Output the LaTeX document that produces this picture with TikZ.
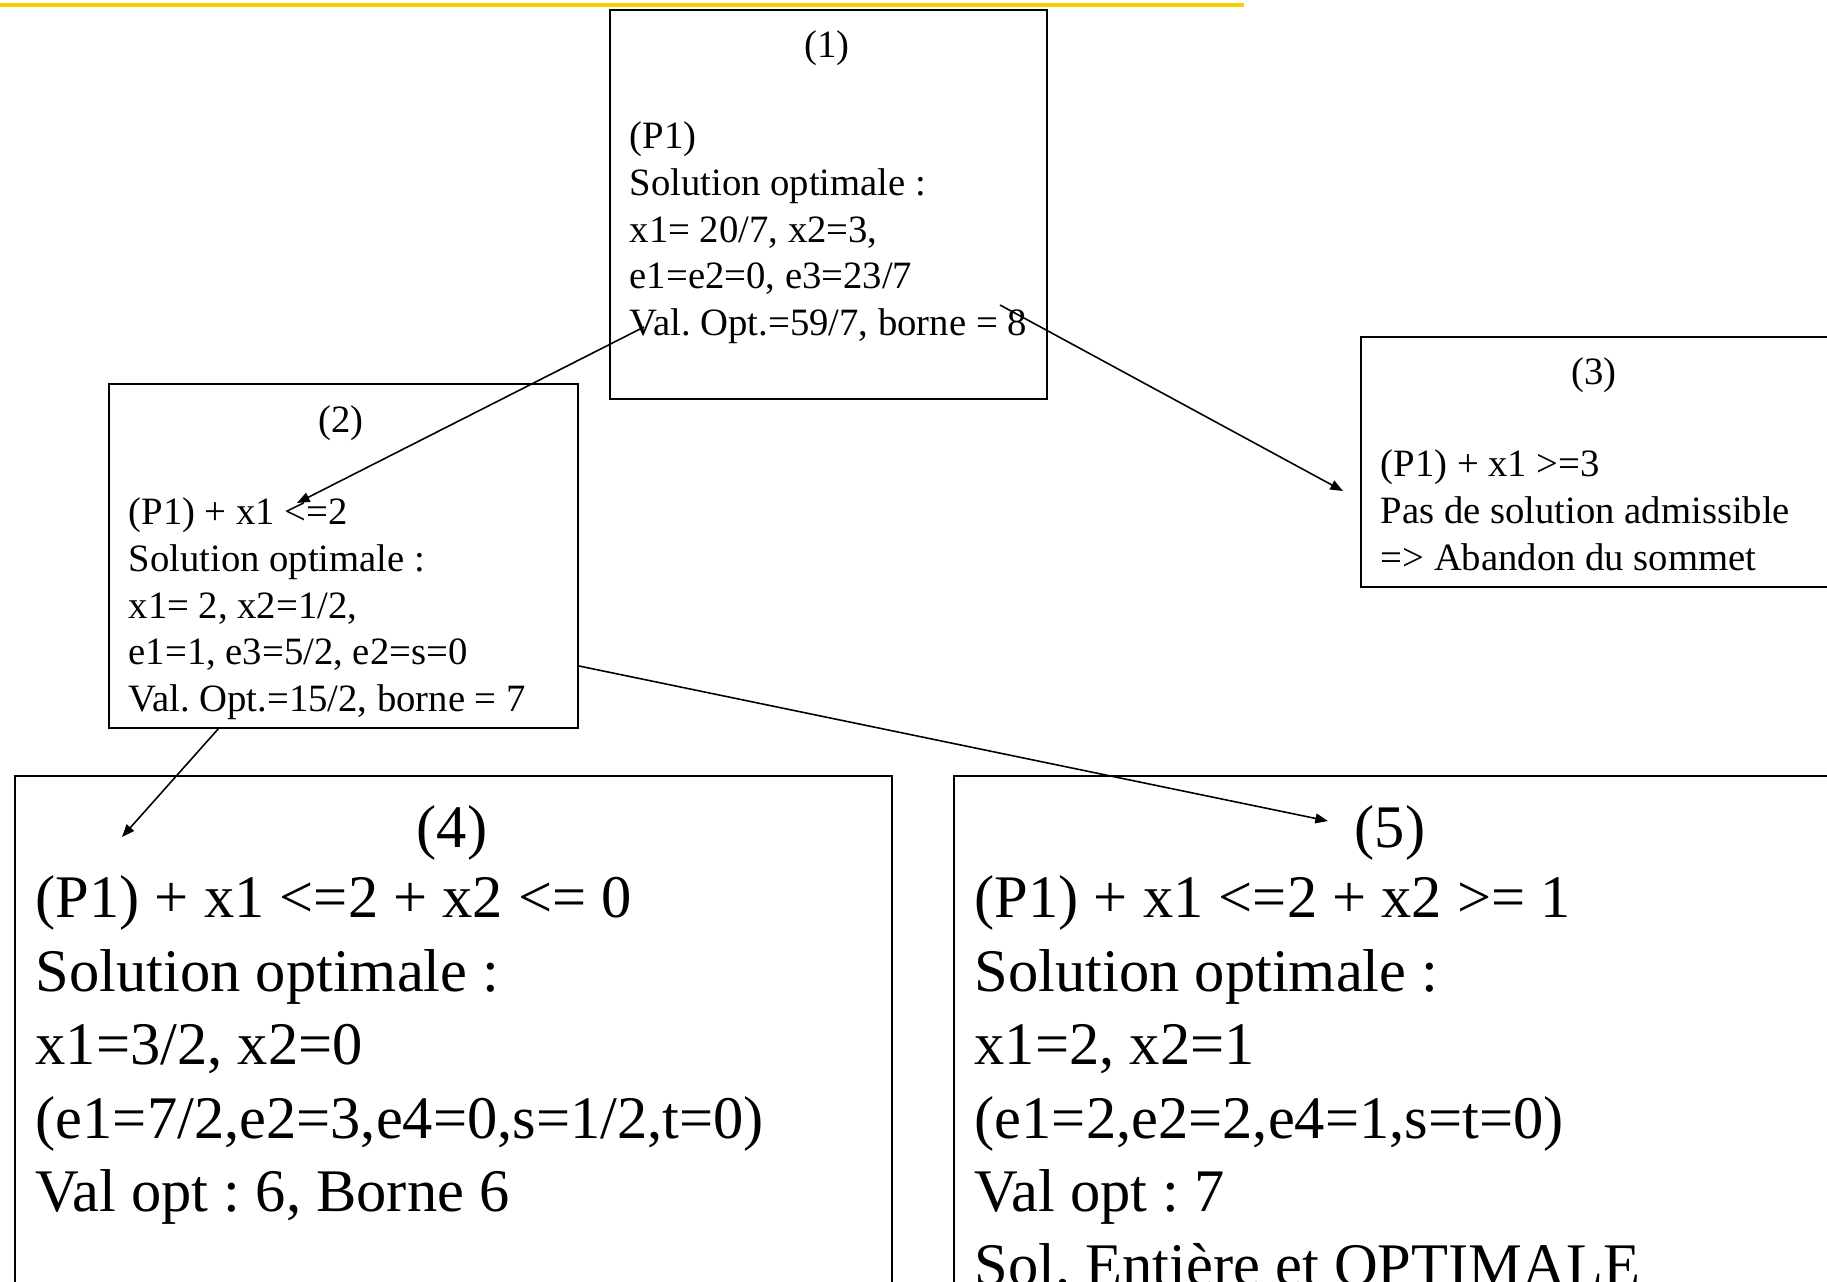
\documentclass[tikz,border=0pt]{standalone}
\usepackage{fontspec}
\setmainfont{Liberation Serif}
\usetikzlibrary{arrows.meta,positioning}
\frenchspacing

\definecolor{bandeau}{RGB}{255,204,0}

\tikzset{
  sommet/.style={draw,line width=0.6pt,rectangle,inner sep=0pt,anchor=north west},
  petit/.style={font=\fontsize{11}{13.3}\selectfont,inner sep=0pt},
  grand/.style={font=\fontsize{17.2}{20.9}\selectfont,inner sep=0pt},
  fleche/.style={line width=0.45pt,-{Triangle[length=3.6pt,width=2.8pt]}}
}

\begin{document}
\begin{tikzpicture}[x=0.01cm,y=-0.01cm]
  \clip (0,0) rectangle (1827,1282);
  \draw[bandeau,line width=0.9pt] (0,5) -- (1244,5);
  \foreach \n/\x/\y/\w/\h in {1/609/9/4.37/3.89, 2/108/383/4.69/3.44, 3/1360/336/4.8/2.5, 4/14/775/8.76/6, 5/953/775/9/6}
    \node[sommet,minimum width=\w cm,minimum height=\h cm] (b\n) at (\x,\y) {};
  \foreach \n/\x/\y/\f in {1/827/58/petit, 2/341/432/petit, 3/1594/384/petit, 4/452/847/grand, 5/1390/847/grand}
    \node[\f,anchor=base] (t\n) at (\x,\y) {(\n)};
  \node[petit,align=left,anchor=north west] (p1) at (629,121) {(P1)\\Solution optimale :\\x1= 20/7, x2=3,\\e1=e2=0, e3=23/7\\Val. Opt.=59/7, borne = 8};
  \node[petit,align=left,anchor=north west] (p2) at (128,497) {(P1) + x1 <=2\\Solution optimale :\\x1= 2, x2=1/2,\\e1=1, e3=5/2, e2=s=0\\Val. Opt.=15/2, borne = 7};
  \node[petit,align=left,anchor=north west] (p3) at (1380,449) {(P1) + x1 >=3\\Pas de solution admissible\\=> Abandon du sommet};
  \node[grand,align=left,anchor=north west] (p4) at (35,875) {(P1) + x1 <=2 + x2 <= 0\\Solution optimale :\\x1=3/2, x2=0\\(e1=7/2,e2=3,e4=0,s=1/2,t=0)\\Val opt : 6, Borne 6};
  \node[grand,align=left,anchor=north west] (p5) at (974,875) {(P1) + x1 <=2 + x2 >= 1\\Solution optimale :\\x1=2, x2=1\\(e1=2,e2=2,e4=1,s=t=0)\\Val opt : 7\\Sol. Entière et OPTIMALE};
  \coordinate (d1) at (644,327); \coordinate (f1) at (297,503);
  \coordinate (d2) at (1000,305); \coordinate (f2) at (1343,491);
  \coordinate (d3) at (219,728); \coordinate (f3) at (122,837);
  \coordinate (d4) at (579,666); \coordinate (f4) at (1328,821);
  \foreach \i in {1,2,3,4}
    \draw[fleche] (d\i) -- (f\i);
\end{tikzpicture}
\end{document}
